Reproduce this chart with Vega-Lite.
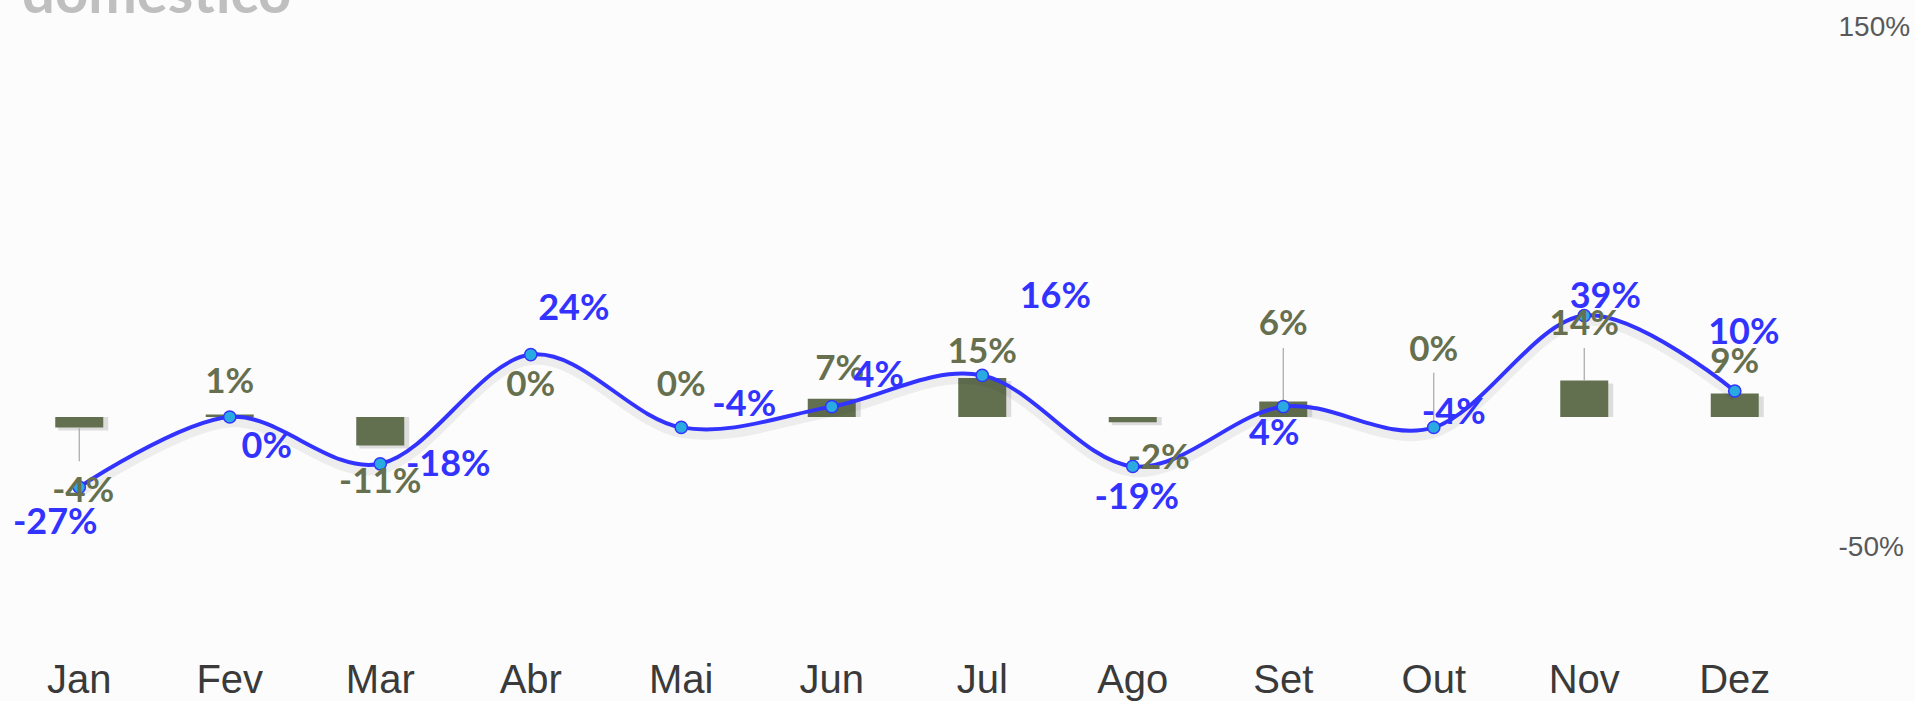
{
  "$schema": "https://vega.github.io/schema/vega-lite/v6.json",
  "autosize": {"type": "none"},
  "padding": {"left": 4, "top": 27, "right": 105, "bottom": 50},
  "width": 1806,
  "height": 624,
  "background": "#fcfcfc",
  "title": {"text": "doméstico", "anchor": "start", "frame": "group", "fontSize": 58, "font": "Lato", "fontWeight": "bold", "color": "#bfbfbf", "offset": -12, "dx": 18},
  "data": {"values": [
    {"mes": "Jan", "bar": -4, "line": -27, "barLbl": "-4%", "lineLbl": "-27%"},
    {"mes": "Fev", "bar": 1, "line": 0, "barLbl": "1%", "lineLbl": "0%"},
    {"mes": "Mar", "bar": -11, "line": -18, "barLbl": "-11%", "lineLbl": "-18%"},
    {"mes": "Abr", "bar": 0, "line": 24, "barLbl": "0%", "lineLbl": "24%"},
    {"mes": "Mai", "bar": 0, "line": -4, "barLbl": "0%", "lineLbl": "-4%"},
    {"mes": "Jun", "bar": 7, "line": 4, "barLbl": "7%", "lineLbl": "4%"},
    {"mes": "Jul", "bar": 15, "line": 16, "barLbl": "15%", "lineLbl": "16%"},
    {"mes": "Ago", "bar": -2, "line": -19, "barLbl": "-2%", "lineLbl": "-19%"},
    {"mes": "Set", "bar": 6, "line": 4, "barLbl": "6%", "lineLbl": "4%"},
    {"mes": "Out", "bar": 0, "line": -4, "barLbl": "0%", "lineLbl": "-4%"},
    {"mes": "Nov", "bar": 14, "line": 39, "barLbl": "14%", "lineLbl": "39%"},
    {"mes": "Dez", "bar": 9, "line": 10, "barLbl": "9%", "lineLbl": "10%"}
  ]},
  "encoding": {
    "x": {"field": "mes", "type": "nominal", "title": null,
      "sort": ["Jan", "Fev", "Mar", "Abr", "Mai", "Jun", "Jul", "Ago", "Set", "Out", "Nov", "Dez"],
      "scale": {"domain": ["Jan", "Fev", "Mar", "Abr", "Mai", "Jun", "Jul", "Ago", "Set", "Out", "Nov", "Dez"], "paddingInner": 0, "paddingOuter": 0},
      "axis": {"orient": "bottom", "domain": false, "ticks": false, "tickSize": 0, "grid": false, "labelAngle": 0, "labelPadding": 9, "labelFontSize": 40, "labelFont": "Liberation Sans", "labelColor": "#3a3a3a"}}
  },
  "layer": [
    {"transform": [{"filter": "datum.bar != 0"}],
     "mark": {"type": "bar", "width": 50, "color": "#000000", "opacity": 0.12, "xOffset": 4, "yOffset": 3},
     "encoding": {"y": {"field": "bar", "type": "quantitative", "title": null,
        "scale": {"domain": [-90, 150], "nice": false, "zero": false},
        "axis": {"orient": "right", "values": [-50, 150], "labelExpr": "datum.value + '%'", "grid": false, "domain": false, "ticks": false, "labelPadding": 28, "labelFontSize": 28, "labelFont": "Liberation Sans", "labelColor": "#595959", "labelAlign": "left", "labelBaseline": "middle", "labelFlush": false}},
      "y2": {"datum": 0}}},
    {"transform": [{"filter": "datum.bar != 0"}],
     "mark": {"type": "bar", "width": 48, "color": "#637050"},
     "encoding": {"y": {"field": "bar", "type": "quantitative", "title": null}, "y2": {"datum": 0}}},
    {"transform": [{"filter": {"field": "mes", "equal": "Jan"}}],
     "mark": {"type": "rule", "color": "#a6a6a6", "strokeWidth": 1.2},
     "encoding": {"y": {"field": "bar", "type": "quantitative", "title": null}, "y2": {"datum": -17}}},
    {"transform": [{"filter": {"field": "mes", "oneOf": ["Set", "Nov"]}}],
     "mark": {"type": "rule", "color": "#a6a6a6", "strokeWidth": 1.2},
     "encoding": {"y": {"field": "bar", "type": "quantitative", "title": null}, "y2": {"datum": 26.5}}},
    {"transform": [{"filter": {"field": "mes", "equal": "Out"}}],
     "mark": {"type": "rule", "color": "#a6a6a6", "strokeWidth": 1.2},
     "encoding": {"y": {"field": "line", "type": "quantitative", "title": null}, "y2": {"datum": 17}}},
    {"mark": {"type": "line", "interpolate": "cardinal", "stroke": "#000000", "opacity": 0.06, "strokeWidth": 9, "yOffset": 6},
     "encoding": {"y": {"field": "line", "type": "quantitative", "title": null}}},
    {"mark": {"type": "line", "interpolate": "cardinal", "stroke": "#3333ff", "strokeWidth": 4},
     "encoding": {"y": {"field": "line", "type": "quantitative", "title": null}}},
    {"mark": {"type": "point", "filled": true, "fill": "#29abe2", "stroke": "#3333ff", "strokeWidth": 1.5, "size": 150, "opacity": 1},
     "encoding": {"y": {"field": "line", "type": "quantitative", "title": null}}},

    {"transform": [{"filter": {"field": "mes", "oneOf": ["Fev", "Abr", "Mai", "Dez"]}}],
     "mark": {"type": "text", "dy": -32, "fontSize": 35, "font": "Lato", "fontWeight": "bold", "color": "#66704f", "baseline": "middle"},
     "encoding": {"y": {"field": "bar", "type": "quantitative", "title": null}, "text": {"field": "barLbl"}}},
    {"transform": [{"filter": {"field": "mes", "equal": "Jun"}}],
     "mark": {"type": "text", "dy": -30, "dx": 8, "fontSize": 35, "font": "Lato", "fontWeight": "bold", "color": "#66704f", "baseline": "middle"},
     "encoding": {"y": {"field": "bar", "type": "quantitative", "title": null}, "text": {"field": "barLbl"}}},
    {"transform": [{"filter": {"field": "mes", "equal": "Jul"}}],
     "mark": {"type": "text", "dy": -26, "fontSize": 35, "font": "Lato", "fontWeight": "bold", "color": "#66704f", "baseline": "middle"},
     "encoding": {"y": {"field": "bar", "type": "quantitative", "title": null}, "text": {"field": "barLbl"}}},
    {"transform": [{"filter": {"field": "mes", "equal": "Mar"}}],
     "mark": {"type": "text", "dy": 36, "fontSize": 35, "font": "Lato", "fontWeight": "bold", "color": "#66704f", "baseline": "middle"},
     "encoding": {"y": {"field": "bar", "type": "quantitative", "title": null}, "text": {"field": "barLbl"}}},
    {"transform": [{"filter": {"field": "mes", "equal": "Ago"}}],
     "mark": {"type": "text", "dy": 36, "dx": 26, "fontSize": 35, "font": "Lato", "fontWeight": "bold", "color": "#66704f", "baseline": "middle"},
     "encoding": {"y": {"field": "bar", "type": "quantitative", "title": null}, "text": {"field": "barLbl"}}},
    {"transform": [{"filter": {"field": "mes", "equal": "Jan"}}],
     "mark": {"type": "text", "dy": 64, "dx": 4, "fontSize": 35, "font": "Lato", "fontWeight": "bold", "color": "#66704f", "baseline": "middle"},
     "encoding": {"y": {"field": "bar", "type": "quantitative", "title": null}, "text": {"field": "barLbl"}}},
    {"transform": [{"filter": {"field": "mes", "equal": "Set"}}],
     "mark": {"type": "text", "dy": -77, "fontSize": 35, "font": "Lato", "fontWeight": "bold", "color": "#66704f", "baseline": "middle"},
     "encoding": {"y": {"field": "bar", "type": "quantitative", "title": null}, "text": {"field": "barLbl"}}},
    {"transform": [{"filter": {"field": "mes", "equal": "Out"}}],
     "mark": {"type": "text", "dy": -67, "fontSize": 35, "font": "Lato", "fontWeight": "bold", "color": "#66704f", "baseline": "middle"},
     "encoding": {"y": {"field": "bar", "type": "quantitative", "title": null}, "text": {"field": "barLbl"}}},
    {"transform": [{"filter": {"field": "mes", "equal": "Nov"}}],
     "mark": {"type": "text", "dy": -57, "fontSize": 35, "font": "Lato", "fontWeight": "bold", "color": "#66704f", "baseline": "middle"},
     "encoding": {"y": {"field": "bar", "type": "quantitative", "title": null}, "text": {"field": "barLbl"}}},

    {"transform": [{"filter": {"field": "mes", "equal": "Jan"}}],
     "mark": {"type": "text", "dx": -24, "dy": 36, "fontSize": 36, "font": "Lato", "fontWeight": "bold", "color": "#3333ff", "baseline": "middle"},
     "encoding": {"y": {"field": "line", "type": "quantitative", "title": null}, "text": {"field": "lineLbl"}}},
    {"transform": [{"filter": {"field": "mes", "equal": "Fev"}}],
     "mark": {"type": "text", "dx": 37, "dy": 30, "fontSize": 36, "font": "Lato", "fontWeight": "bold", "color": "#3333ff", "baseline": "middle"},
     "encoding": {"y": {"field": "line", "type": "quantitative", "title": null}, "text": {"field": "lineLbl"}}},
    {"transform": [{"filter": {"field": "mes", "equal": "Mar"}}],
     "mark": {"type": "text", "dx": 68, "dy": 1, "fontSize": 36, "font": "Lato", "fontWeight": "bold", "color": "#3333ff", "baseline": "middle"},
     "encoding": {"y": {"field": "line", "type": "quantitative", "title": null}, "text": {"field": "lineLbl"}}},
    {"transform": [{"filter": {"field": "mes", "equal": "Abr"}}],
     "mark": {"type": "text", "dx": 43, "dy": -46, "fontSize": 36, "font": "Lato", "fontWeight": "bold", "color": "#3333ff", "baseline": "middle"},
     "encoding": {"y": {"field": "line", "type": "quantitative", "title": null}, "text": {"field": "lineLbl"}}},
    {"transform": [{"filter": {"field": "mes", "equal": "Mai"}}],
     "mark": {"type": "text", "dx": 63, "dy": -22, "fontSize": 36, "font": "Lato", "fontWeight": "bold", "color": "#3333ff", "baseline": "middle"},
     "encoding": {"y": {"field": "line", "type": "quantitative", "title": null}, "text": {"field": "lineLbl"}}},
    {"transform": [{"filter": {"field": "mes", "equal": "Jun"}}],
     "mark": {"type": "text", "dx": 47, "dy": -31, "fontSize": 36, "font": "Lato", "fontWeight": "bold", "color": "#3333ff", "baseline": "middle"},
     "encoding": {"y": {"field": "line", "type": "quantitative", "title": null}, "text": {"field": "lineLbl"}}},
    {"transform": [{"filter": {"field": "mes", "equal": "Jul"}}],
     "mark": {"type": "text", "dx": 73, "dy": -78, "fontSize": 36, "font": "Lato", "fontWeight": "bold", "color": "#3333ff", "baseline": "middle"},
     "encoding": {"y": {"field": "line", "type": "quantitative", "title": null}, "text": {"field": "lineLbl"}}},
    {"transform": [{"filter": {"field": "mes", "equal": "Ago"}}],
     "mark": {"type": "text", "dx": 4, "dy": 32, "fontSize": 36, "font": "Lato", "fontWeight": "bold", "color": "#3333ff", "baseline": "middle"},
     "encoding": {"y": {"field": "line", "type": "quantitative", "title": null}, "text": {"field": "lineLbl"}}},
    {"transform": [{"filter": {"field": "mes", "equal": "Set"}}],
     "mark": {"type": "text", "dx": -9, "dy": 27, "fontSize": 36, "font": "Lato", "fontWeight": "bold", "color": "#3333ff", "baseline": "middle"},
     "encoding": {"y": {"field": "line", "type": "quantitative", "title": null}, "text": {"field": "lineLbl"}}},
    {"transform": [{"filter": {"field": "mes", "equal": "Out"}}],
     "mark": {"type": "text", "dx": 20, "dy": -14, "fontSize": 36, "font": "Lato", "fontWeight": "bold", "color": "#3333ff", "baseline": "middle"},
     "encoding": {"y": {"field": "line", "type": "quantitative", "title": null}, "text": {"field": "lineLbl"}}},
    {"transform": [{"filter": {"field": "mes", "equal": "Nov"}}],
     "mark": {"type": "text", "dx": 21, "dy": -19, "fontSize": 36, "font": "Lato", "fontWeight": "bold", "color": "#3333ff", "baseline": "middle"},
     "encoding": {"y": {"field": "line", "type": "quantitative", "title": null}, "text": {"field": "lineLbl"}}},
    {"transform": [{"filter": {"field": "mes", "equal": "Dez"}}],
     "mark": {"type": "text", "dx": 9, "dy": -58, "fontSize": 36, "font": "Lato", "fontWeight": "bold", "color": "#3333ff", "baseline": "middle"},
     "encoding": {"y": {"field": "line", "type": "quantitative", "title": null}, "text": {"field": "lineLbl"}}}
  ],
  "config": {"view": {"stroke": null}}
}
